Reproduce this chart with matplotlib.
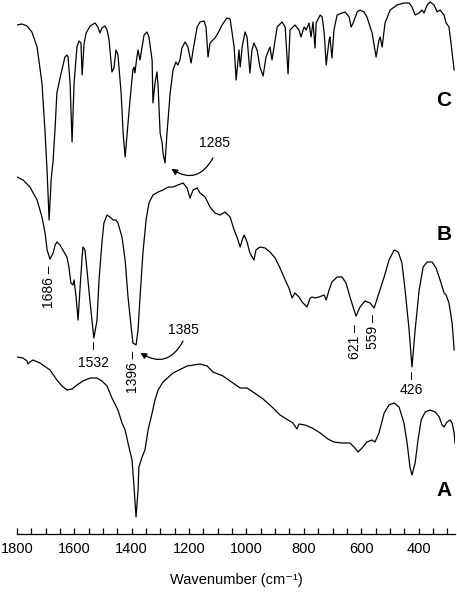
import matplotlib
matplotlib.use("Agg")
import matplotlib.pyplot as plt
from matplotlib.ticker import MultipleLocator

plt.rcParams['font.family'] = ['Liberation Sans', 'DejaVu Sans']

# spectrum C (top trace, offset)
c_wn = [1800, 1783, 1765, 1748, 1730, 1713, 1702, 1695, 1688, 1681, 1674, 1667, 1661, 1650,
        1633, 1626, 1622, 1615, 1608, 1601, 1591, 1584, 1577, 1573, 1566, 1559, 1545, 1528,
        1518, 1511, 1504, 1493, 1486, 1479, 1469, 1462, 1455, 1448, 1437, 1430, 1423, 1416,
        1406, 1396, 1392, 1389, 1382, 1378, 1371, 1364, 1357, 1347, 1340, 1329, 1326, 1319,
        1312, 1308, 1301, 1294, 1291, 1284, 1277, 1266, 1256, 1246, 1239, 1232, 1225, 1214,
        1204, 1193, 1186, 1172, 1162, 1148, 1141, 1134, 1127, 1110, 1099, 1085, 1068, 1057,
        1043, 1036, 1026, 1022, 1015, 1005, 998, 988, 981, 974, 963, 953, 942, 932, 918, 911,
        904, 893, 876, 865, 855, 848, 841, 831, 817, 810, 799, 792, 782, 775, 768, 761, 757,
        743, 736, 729, 722, 712, 709, 702, 695, 684, 667, 656, 642, 635, 628, 614, 604, 590,
        580, 562, 548, 538, 534, 527, 517, 499, 475, 451, 433, 423, 412, 398, 388, 381, 370,
        360, 346, 335, 325, 311, 304, 294, 287, 276]
c_t = [509, 510, 508, 502, 487, 451, 401, 362, 314, 354, 374, 407, 441, 456,
       477, 479, 477, 451, 392, 451, 487, 493, 491, 459, 491, 501, 508, 511,
       507, 501, 506, 508, 504, 494, 462, 466, 484, 479, 441, 401, 377, 401,
       434, 464, 467, 461, 477, 484, 474, 487, 499, 502, 497, 474, 431, 451,
       462, 447, 401, 391, 381, 371, 401, 441, 464, 472, 469, 474, 486, 492,
       487, 471, 484, 507, 512, 513, 507, 477, 491, 496, 501, 509, 516, 515,
       487, 454, 484, 467, 487, 502, 497, 461, 484, 491, 484, 467, 458, 477, 487, 474,
       487, 507, 512, 507, 460, 504, 506, 509, 504, 497, 507, 504, 511, 497, 512, 486, 511,
       519, 517, 501, 469, 494, 497, 476, 504, 519, 521, 522, 517, 507, 511, 522, 524, 522,
       517, 501, 477, 494, 497, 487, 511, 524, 529, 531, 531, 527, 519, 521, 524, 521, 529,
       532, 529, 522, 524, 519, 511, 507, 491, 464]

# spectrum B (middle trace, offset)
b_wn = [1800, 1779, 1755, 1730, 1713, 1702, 1695, 1685, 1674, 1667, 1661, 1650, 1636, 1626,
        1619, 1612, 1605, 1601, 1594, 1587, 1580, 1573, 1570, 1563, 1556, 1545, 1535, 1532,
        1521, 1514, 1504, 1497, 1486, 1476, 1465, 1455, 1448, 1434, 1423, 1413, 1402, 1396,
        1385, 1378, 1371, 1361, 1350, 1340, 1326, 1308, 1291, 1273, 1256, 1239, 1221, 1207,
        1197, 1186, 1172, 1162, 1144, 1127, 1110, 1092, 1075, 1057, 1043, 1033, 1022, 1015,
        1008, 998, 988, 974, 967, 953, 935, 918, 900, 883, 865, 852, 841, 831, 817, 806, 789,
        778, 771, 761, 747, 729, 722, 712, 702, 684, 667, 653, 639, 625, 618, 604, 587, 569,
        555, 538, 520, 503, 485, 471, 458, 447, 433, 423, 412, 398, 384, 370, 353, 339, 325,
        311, 304, 294, 283, 276]
b_t = [357, 354, 347, 334, 317, 301, 284, 275, 281, 289, 292, 289, 282, 277,
       267, 251, 249, 254, 237, 214, 247, 277, 287, 284, 264, 231, 204, 196,
       214, 254, 291, 311, 319, 317, 314, 314, 311, 297, 274, 237, 207, 191,
       189, 204, 237, 281, 314, 331, 339, 342, 344, 347, 347, 349, 351, 346,
       336, 344, 346, 341, 337, 327, 321, 319, 322, 317, 304, 297, 287, 294,
       299, 292, 281, 274, 284, 287, 286, 282, 276, 266, 254, 246, 236, 241, 237, 232, 227,
       236, 237, 236, 237, 239, 234, 244, 252, 257, 257, 251, 237, 224, 218, 227, 233, 231,
       226, 241, 257, 274, 284, 282, 271, 244, 204, 167, 204, 244, 267, 272, 272, 266, 254,
       241, 239, 231, 211, 184]

# spectrum A (bottom trace)
a_wn = [1800, 1779, 1765, 1762, 1755, 1744, 1720, 1685, 1661, 1643, 1626, 1608, 1591, 1570,
        1545, 1521, 1504, 1486, 1469, 1448, 1434, 1423, 1413, 1399, 1392, 1385, 1378, 1375,
        1364, 1354, 1343, 1329, 1319, 1308, 1291, 1256, 1207, 1162, 1137, 1117, 1082, 1047,
        1022, 998, 977, 942, 911, 883, 855, 838, 824, 817, 796, 771, 743, 716, 695, 667, 639,
        625, 611, 597, 580, 562, 552, 538, 520, 503, 485, 468, 451, 440, 430, 423, 412, 402,
        391, 377, 360, 342, 328, 318, 311, 301, 290, 283, 276, 273]
a_t = [177, 176, 173, 170, 172, 174, 171, 164, 154, 148, 144, 145, 149, 153,
       156, 156, 153, 148, 136, 124, 111, 104, 91, 74, 47, 17, 44, 67,
       77, 84, 104, 121, 134, 144, 152, 161, 168, 170, 168, 162, 158, 151,
       146, 146, 142, 135, 127, 119, 114, 111, 105, 110, 109, 106, 101, 95, 92, 91, 91,
       87, 82, 86, 92, 94, 92, 101, 121, 129, 131, 127, 111, 91, 67, 59, 71, 94,
       114, 122, 124, 122, 117, 109, 107, 112, 114, 111, 101, 91]

# peak labels: (text, wavenumber, height, rotation)
peak_text = ["1686 \u2013", "1396 \u2013", "621 \u2013", "559 \u2013", "1532", "426"]
peak_wn = [1688, 1396, 621, 559, 1532, 424]
peak_y = [247, 162, 192, 202, 171, 144]
peak_rot = [90, 90, 90, 90, 0, 0]

# arrowed labels: text position, arrow start, arrow tip
arrow_text = ["1285", "1385"]
arrow_text_wn = [1110, 1221]
arrow_text_y = [391, 204]
arrow_start_wn = [1117, 1221]
arrow_start_y = [376, 193]
arrow_tip_wn = [1266, 1374]
arrow_tip_y = [366, 182]

fig = plt.figure(figsize=(4.57, 5.93), dpi=100)
ax = fig.add_axes([17 / 457, 59 / 593, 438 / 457, 534 / 593])

lw = 0.9
for wn, t in [(c_wn, c_t), (b_wn, b_t), (a_wn, a_t)]:
    ax.plot(wn, t, color='black', lw=lw, solid_joinstyle='round')

ax.set_xlim(1800, 273)
ax.set_ylim(0, 534)

for s in ['top', 'left', 'right']:
    ax.spines[s].set_visible(False)
ax.spines['bottom'].set_linewidth(0.9)
ax.set_yticks([])
ax.xaxis.set_major_locator(MultipleLocator(200))
ax.xaxis.set_minor_locator(MultipleLocator(50))
ax.tick_params(axis='x', which='both', direction='in', length=4, width=0.9,
               labelsize=10.5, pad=6)
ax.set_xlabel("Wavenumber (cm\u207b\u00b9)", fontsize=10.5, labelpad=12)

# peak labels
for t, w, y, r in zip(peak_text, peak_wn, peak_y, peak_rot):
    ax.text(w, y, t, rotation=r, ha='center', va='center', fontsize=10)
# small tick marks above horizontal labels
ax.text(1532, 189, "\u2013", rotation=90, ha='center', va='center', fontsize=10)
ax.text(424, 159, "\u2013", rotation=90, ha='center', va='center', fontsize=10)

# curved arrows
for i in range(len(arrow_text)):
    ax.text(arrow_text_wn[i], arrow_text_y[i], arrow_text[i], fontsize=10,
            ha='center', va='center')
    ax.annotate("", xy=(arrow_tip_wn[i], arrow_tip_y[i]),
                xytext=(arrow_start_wn[i], arrow_start_y[i]),
                arrowprops=dict(arrowstyle='-|>', color='black', lw=0.9,
                                mutation_scale=9, shrinkA=0, shrinkB=1,
                                connectionstyle='arc3,rad=-0.55'))

# trace letters
for letter, y in zip(["C", "B", "A"], [434, 299, 44]):
    ax.text(311, y, letter, fontsize=15, fontweight='bold', ha='center', va='center')

fig.savefig("out.png", dpi=100)
